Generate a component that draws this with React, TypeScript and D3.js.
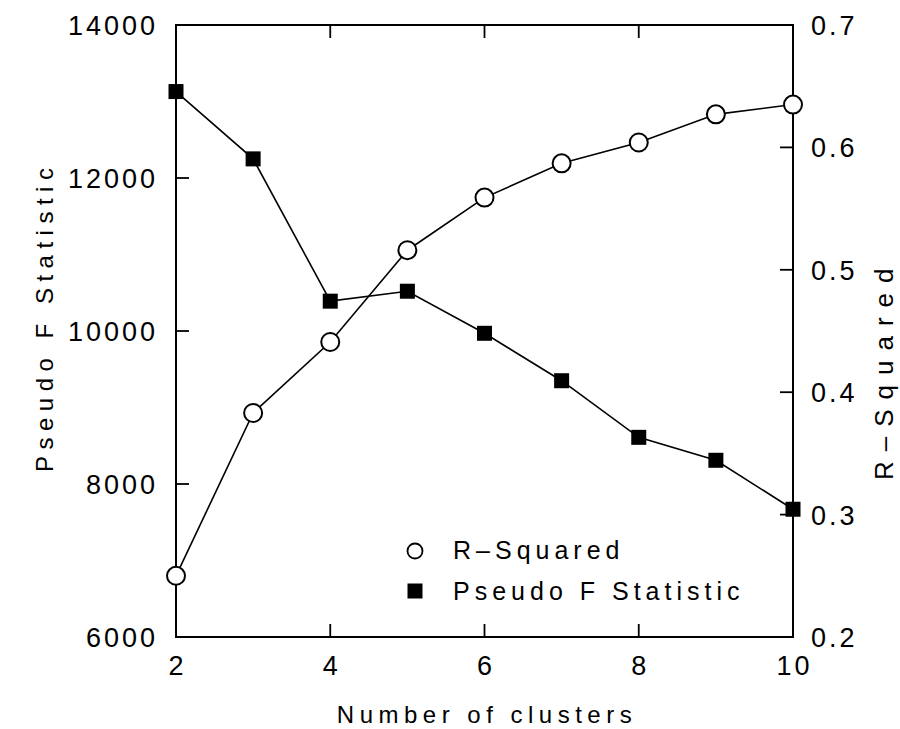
import React from 'react';
import * as d3 from 'd3';

// values
const clusters = [2, 3, 4, 5, 6, 7, 8, 9, 10];
const pseudoF = [13130, 12250, 10390, 10520, 9970, 9350, 8610, 8310, 7670];
const rSquared = [0.25, 0.383, 0.441, 0.516, 0.559, 0.587, 0.604, 0.627, 0.635];
const xTicks = [2, 4, 6, 8, 10];
const leftTicks = [6000, 8000, 10000, 12000, 14000];
const rightTicks = [0.2, 0.3, 0.4, 0.5, 0.6, 0.7];

const W = 900, H = 729;
const left = 176, right = 793, top = 25, bottom = 637;
const tick = 13;
const font = '"Liberation Sans", Arial, sans-serif';

const App = () => {
  const x = d3.scaleLinear().domain([2, 10]).range([left, right]);
  const yL = d3.scaleLinear().domain([6000, 14000]).range([bottom, top]);
  const yR = d3.scaleLinear().domain([0.2, 0.7]).range([bottom, top]);

  const fLine = d3.line<number>().x((d, i) => x(clusters[i])).y(d => yL(d));
  const rLine = d3.line<number>().x((d, i) => x(clusters[i])).y(d => yR(d));

  const sq = 15;

  return (
    <svg width={W} height={H} style={{ position: 'absolute', left: 0, top: 0, background: '#fff' }}
      fontFamily={font}>
      {/* frame */}
      <rect x={left} y={top} width={right - left} height={bottom - top} fill="none" stroke="#000" strokeWidth={2} />

      {/* x ticks, bottom and top, pointing in */}
      {xTicks.slice(1, -1).map(t => (
        <g key={'xt' + t}>
          <line x1={x(t)} x2={x(t)} y1={bottom} y2={bottom - tick} stroke="#000" strokeWidth={1.8} />
          <line x1={x(t)} x2={x(t)} y1={top} y2={top + tick} stroke="#000" strokeWidth={1.8} />
        </g>
      ))}
      {xTicks.map(t => (
        <text key={'xl' + t} x={x(t) + 1.5} y={675} fontSize={27} letterSpacing={3} textAnchor="middle">{t}</text>
      ))}

      {/* left axis */}
      {leftTicks.slice(1, -1).map(t => (
        <line key={'lt' + t} x1={left} x2={left + tick} y1={yL(t)} y2={yL(t)} stroke="#000" strokeWidth={1.8} />
      ))}
      {leftTicks.map(t => (
        <text key={'ll' + t} x={158} y={yL(t) + 10} fontSize={27} letterSpacing={3} textAnchor="end">{t}</text>
      ))}

      {/* right axis */}
      {rightTicks.slice(1, -1).map(t => (
        <line key={'rt' + t} x1={right} x2={right - tick} y1={yR(t)} y2={yR(t)} stroke="#000" strokeWidth={1.8} />
      ))}
      {rightTicks.map(t => (
        <text key={'rl' + t} x={811} y={yR(t) + 10} fontSize={27} letterSpacing={3} textAnchor="start">{t.toFixed(1)}</text>
      ))}

      {/* axis titles */}
      <text x={487} y={723} fontSize={24} letterSpacing={5.5} textAnchor="middle">Number of clusters</text>
      <text transform="translate(53,472) rotate(-90)" fontSize={24} letterSpacing={6.5} textAnchor="start">Pseudo F Statistic</text>
      <text transform="translate(893,480) rotate(-90)" fontSize={26} letterSpacing={10} textAnchor="start">R–Squared</text>

      {/* series */}
      <path d={fLine(pseudoF) || ''} fill="none" stroke="#000" strokeWidth={1.6} />
      <path d={rLine(rSquared) || ''} fill="none" stroke="#000" strokeWidth={1.6} />
      {pseudoF.map((v, i) => (
        <rect key={'f' + i} x={x(clusters[i]) - sq / 2} y={yL(v) - sq / 2} width={sq} height={sq} fill="#000" />
      ))}
      {rSquared.map((v, i) => (
        <circle key={'r' + i} cx={x(clusters[i])} cy={yR(v)} r={9} fill="#fff" stroke="#000" strokeWidth={2} />
      ))}

      {/* legend */}
      <circle cx={415} cy={551} r={7.5} fill="#fff" stroke="#000" strokeWidth={1.8} />
      <text x={453} y={559} fontSize={25} letterSpacing={5}>R–Squared</text>
      <rect x={415 - 7.5} y={591 - 7.5} width={15} height={15} fill="#000" />
      <text x={453} y={600} fontSize={25} letterSpacing={5}>Pseudo F Statistic</text>
    </svg>
  );
};

export default App;
